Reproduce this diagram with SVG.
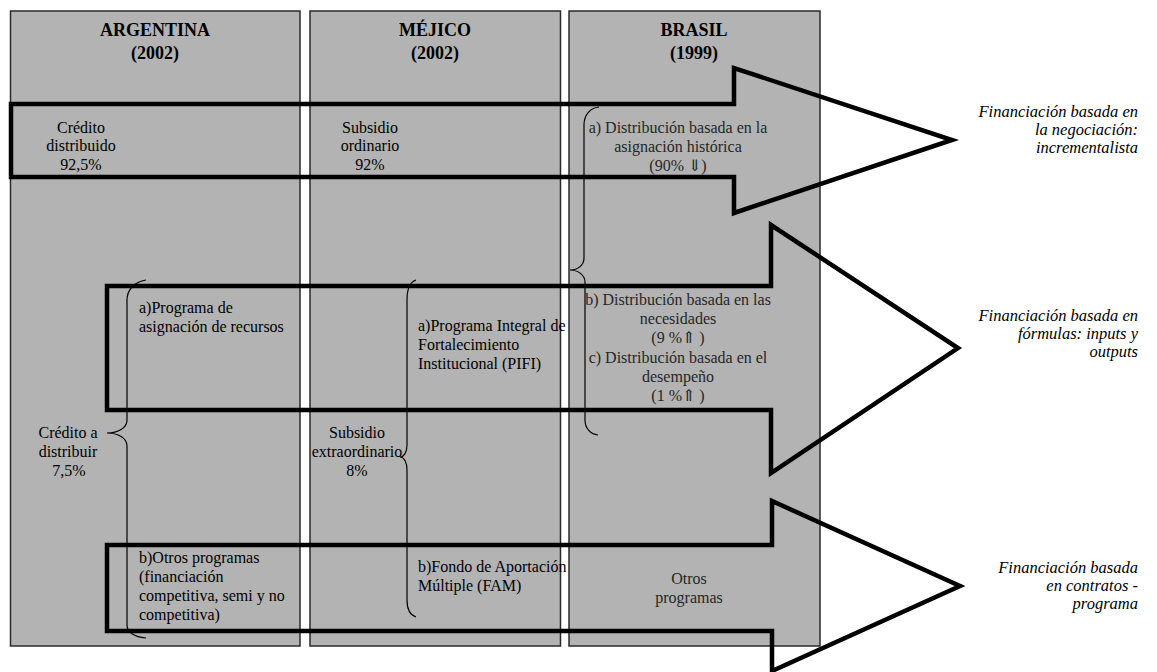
<svg xmlns="http://www.w3.org/2000/svg" width="1157" height="672" viewBox="0 0 1157 672">
<style>
.col{fill:#b3b3b3;stroke:#2a2a2a;stroke-width:1.5}
.hd{font-family:"Liberation Serif",serif;font-weight:bold;font-size:18px;fill:#000;text-anchor:middle}
.t{font-family:"Liberation Serif","DejaVu Serif",serif;font-size:16px;fill:#000}
.c{text-anchor:middle}
.g{fill:#262626}
.lab{font-family:"Liberation Serif",serif;font-style:italic;font-size:16.5px;fill:#000;text-anchor:end}
.arr{fill:none;stroke:#000;stroke-width:4.5;stroke-linejoin:miter}
.br{fill:none;stroke:#000;stroke-width:1.2}
</style>
<rect width="1157" height="672" fill="#fff"/>
<g id="argentina">
<rect class="col" x="10.5" y="11" width="289.5" height="635"/>
<text class="hd" x="155" y="36">ARGENTINA</text>
<text class="hd" x="155" y="59">(2002)</text>
<text class="t c" x="81" y="133">Crédito</text>
<text class="t c" x="81" y="151">distribuido</text>
<text class="t c" x="81" y="170">92,5%</text>
<text class="t c" x="68" y="438">Crédito a</text>
<text class="t c" x="68" y="457">distribuir</text>
<text class="t c" x="69" y="476">7,5%</text>
<path class="br" d="M146,280 C134,282 127,290 127,300 L127,420 C127,428 118,433 107,433 C118,433 127,438 127,446 L127,625 C127,632 134,637 146,638"/>
<text class="t" x="139" y="313">a)Programa de</text>
<text class="t" x="139" y="332">asignación de recursos</text>
<text class="t" x="139" y="563">b)Otros programas</text>
<text class="t" x="139" y="582">(financiación</text>
<text class="t" x="139" y="601">competitiva, semi y no</text>
<text class="t" x="139" y="620">competitiva)</text>
</g>
<g id="mejico">
<rect class="col" x="310" y="11" width="250.5" height="635"/>
<text class="hd" x="435" y="36">MÉJICO</text>
<text class="hd" x="435" y="59">(2002)</text>
<text class="t c" x="370" y="133">Subsidio</text>
<text class="t c" x="370" y="151">ordinario</text>
<text class="t c" x="370" y="170">92%</text>
<text class="t c" x="357" y="438">Subsidio</text>
<text class="t c" x="357" y="457">extraordinario</text>
<text class="t c" x="357" y="476">8%</text>
<path class="br" d="M416,280 C410,282 407,290 407,300 L407,445 C407,452 404,457 400,457 C404,457 407,462 407,470 L407,600 C407,608 410,615 416,617"/>
<text class="t" x="418" y="331">a)Programa Integral de</text>
<text class="t" x="418" y="350">Fortalecimiento</text>
<text class="t" x="418" y="369">Institucional (PIFI)</text>
<text class="t" x="418" y="572">b)Fondo de Aportación</text>
<text class="t" x="418" y="591">Múltiple (FAM)</text>
</g>
<g id="brasil">
<rect class="col" x="569" y="11" width="251" height="635"/>
<text class="hd" x="694" y="36">BRASIL</text>
<text class="hd" x="694" y="59">(1999)</text>
<path class="br" d="M599,107 C590,108 584,115 584,125 L584,258 C584,265 578,270 570,270 C578,270 585,275 585,282 L585,420 C585,428 590,434 598,435"/>
<text class="t c g" x="678" y="133">a) Distribución basada en la</text>
<text class="t c g" x="678" y="152">asignación histórica</text>
<text class="t c g" x="678" y="171">(90% ⇓)</text>
<text class="t c g" x="678" y="305">b) Distribución basada en las</text>
<text class="t c g" x="678" y="324">necesidades</text>
<text class="t c g" x="678" y="343">(9 %⇑ )</text>
<text class="t c g" x="678" y="363">c) Distribución basada en el</text>
<text class="t c g" x="678" y="382">desempeño</text>
<text class="t c g" x="678" y="401">(1 %⇑ )</text>
<text class="t c g" x="689" y="584">Otros</text>
<text class="t c g" x="689" y="603">programas</text>
</g>
<g id="connectors">
<polygon class="arr" points="11,104 734,104 734,68 952,140 734,213 734,177 11,177"/>
<polygon class="arr" points="107,286 771,286 771,225 958,348 771,473 771,410 107,410"/>
<polygon class="arr" points="107,545 772,545 772,501 960,586 772,671 772,631 107,631"/>
</g>
<g id="label-negociacion">
<text class="lab" x="1138" y="117">Financiación basada en</text>
<text class="lab" x="1138" y="135">la negociación:</text>
<text class="lab" x="1138" y="153">incrementalista</text>
</g>
<g id="label-formulas">
<text class="lab" x="1138" y="321">Financiación basada en</text>
<text class="lab" x="1138" y="339">fórmulas: inputs y</text>
<text class="lab" x="1138" y="357">outputs</text>
</g>
<g id="label-contratos">
<text class="lab" x="1138" y="573">Financiación basada</text>
<text class="lab" x="1138" y="591">en contratos -</text>
<text class="lab" x="1138" y="609">programa</text>
</g>
</svg>
